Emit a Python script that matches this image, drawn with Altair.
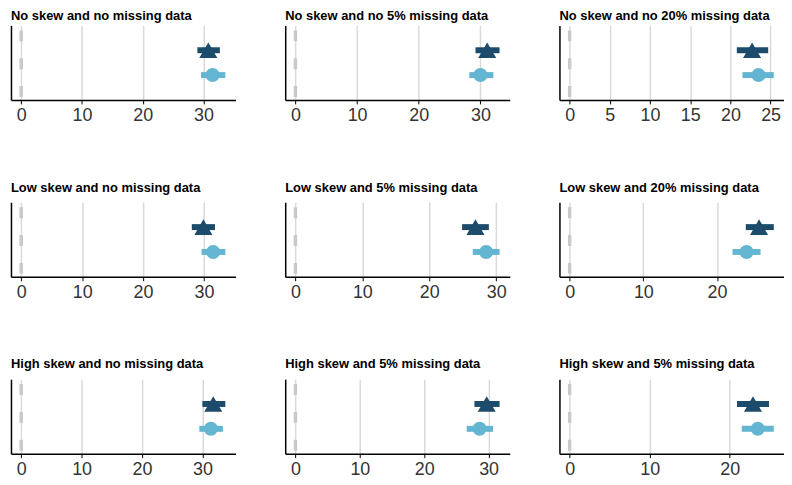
import altair as alt
import pandas as pd

titles = [
    "No skew and no missing data",
    "No skew and no 5% missing data",
    "No skew and no 20% missing data",
    "Low skew and no missing data",
    "Low skew and 5% missing data",
    "Low skew and 20% missing data",
    "High skew and no missing data",
    "High skew and 5% missing data",
    "High skew and 5% missing data",
]

methods = ["Method A", "Method B"]

tri_est = [30.8, 31.1, 22.7, 29.9, 26.9, 25.7, 31.8, 29.7, 22.9]
tri_lo = [29.0, 29.2, 20.8, 28.0, 24.9, 23.9, 30.0, 27.8, 20.9]
tri_hi = [32.7, 33.1, 24.7, 31.8, 28.9, 27.7, 33.8, 31.7, 24.9]

circ_est = [31.5, 30.0, 23.5, 31.5, 28.5, 24.0, 31.4, 28.6, 23.5]
circ_lo = [29.6, 28.2, 21.5, 29.6, 26.5, 22.1, 29.5, 26.6, 21.5]
circ_hi = [33.6, 32.1, 25.4, 33.5, 30.5, 25.9, 33.4, 30.7, 25.5]

tick_sets = [
    [0, 10, 20, 30],
    [0, 10, 20, 30],
    [0, 5, 10, 15, 20, 25],
    [0, 10, 20, 30],
    [0, 10, 20, 30],
    [0, 10, 20],
    [0, 10, 20, 30],
    [0, 10, 20, 30],
    [0, 10, 20],
]

reference_value = [0]

colors = ["#1c4b6c", "#64b5d1"]
shapes = ["triangle-up", "circle"]
sizes = [330, 200]

W, H = 226, 75


def panel(i):
    df = pd.DataFrame({
        "method": methods,
        "est": [tri_est[i], circ_est[i]],
        "lo": [tri_lo[i], circ_lo[i]],
        "hi": [tri_hi[i], circ_hi[i]],
    })
    top = max(df["hi"].max(), 0)
    rng = top - min(0, df["lo"].min())
    dom = [min(0, df["lo"].min()) - 0.05 * rng, top + 0.05 * rng]
    xscale = alt.Scale(domain=dom, nice=False, zero=False)
    xaxis = alt.Axis(values=tick_sets[i], title=None, format="d", grid=True)
    y = alt.Y(
        "method:N",
        scale=alt.Scale(type="point", domain=methods, padding=2.1),
        axis=alt.Axis(title=None, labels=False, ticks=False, grid=False, domain=True),
    )
    color = alt.Color("method:N", scale=alt.Scale(domain=methods, range=colors), legend=None)

    zero = alt.Chart(pd.DataFrame({"ref": reference_value})).mark_rule(
        color="#c9c9c9", strokeWidth=3.5, strokeDash=[11, 17], strokeDashOffset=23
    ).encode(x=alt.X("ref:Q", scale=xscale, axis=xaxis))

    base = alt.Chart(df)
    bars = base.mark_rule(strokeWidth=6).encode(
        x=alt.X("lo:Q", scale=xscale, axis=xaxis), x2="hi:Q", y=y, color=color
    )
    pts = base.mark_point(filled=True, opacity=1).encode(
        x=alt.X("est:Q", scale=xscale, axis=xaxis),
        y=y,
        color=color,
        shape=alt.Shape("method:N", scale=alt.Scale(domain=methods, range=shapes), legend=None),
        size=alt.Size("method:O", scale=alt.Scale(domain=methods, range=sizes), legend=None),
    )
    title_offset = 1 if i < 3 else 6
    return alt.layer(zero, bars, pts).properties(
        width=W, height=H,
        title=alt.TitleParams(titles[i], anchor="start", offset=title_offset),
    )


rows = []
for r in range(3):
    rows.append(alt.hconcat(*[panel(r * 3 + c) for c in range(3)], spacing=50))

chart = alt.vconcat(*rows, spacing=57).properties(
    padding={"top": 0, "left": 3, "right": 0, "bottom": 0}
).configure_view(stroke=None).configure_axis(
    domainColor="black",
    domainWidth=1.5,
    tickColor="black",
    tickWidth=1,
    tickSize=4,
    labelFont="Liberation Sans",
    labelFontSize=18,
    labelColor="#333333",
    labelPadding=3,
    gridColor="#d9d9d9",
    gridWidth=1.5,
).configure_title(
    font="Liberation Sans",
    fontSize=13,
    fontWeight="bold",
    color="black",
)

chart.save("out.html", embed_options={"renderer": "svg", "actions": False})
